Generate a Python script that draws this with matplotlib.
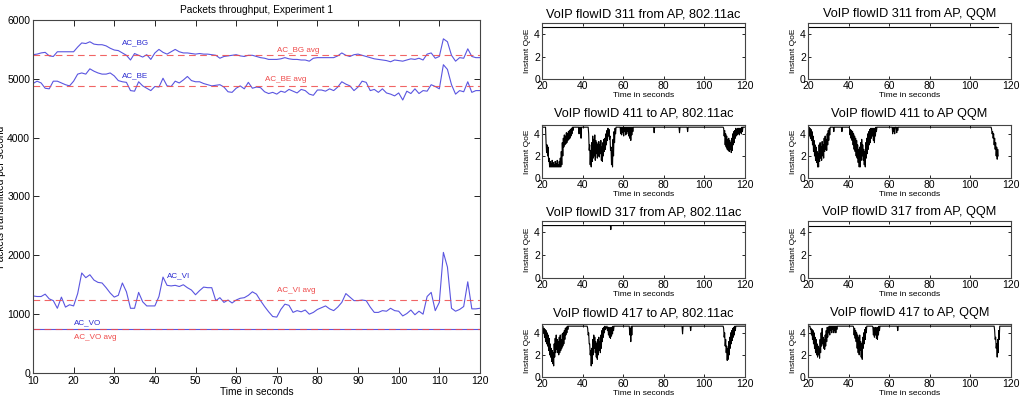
import matplotlib
matplotlib.use("Agg")
import matplotlib.pyplot as plt

plt.rcParams['font.family'] = ['Liberation Sans', 'DejaVu Sans']

# ---------------- Left chart data ----------------
seconds = list(range(10, 121))
ac_bg = [5410, 5420, 5440, 5450, 5390, 5380, 5460, 5460, 5460, 5460,
         5460, 5540, 5610, 5600, 5630, 5590, 5580, 5580, 5560, 5520,
         5490, 5480, 5440, 5400, 5320, 5430, 5400, 5370, 5410, 5330,
         5440, 5500, 5450, 5420, 5460, 5500, 5460, 5440, 5440, 5430,
         5420, 5430, 5420, 5420, 5410, 5400, 5350, 5380, 5390, 5400,
         5410, 5390, 5380, 5400, 5400, 5380, 5360, 5350, 5330, 5330,
         5330, 5340, 5360, 5340, 5330, 5330, 5320, 5320, 5300, 5350,
         5360, 5360, 5360, 5360, 5360, 5390, 5440, 5400, 5380, 5410,
         5420, 5400, 5380, 5360, 5340, 5330, 5320, 5310, 5290, 5320,
         5310, 5300, 5320, 5340, 5330, 5350, 5320, 5420, 5440, 5350,
         5380, 5680, 5630, 5400, 5300, 5360, 5350, 5510, 5380, 5360,
         5360]
ac_be = [4920, 4960, 4930, 4840, 4830, 4960, 4960, 4930, 4900, 4880,
         4960, 5080, 5100, 5080, 5170, 5130, 5100, 5080, 5080, 5100,
         5050, 4970, 4950, 4940, 4800, 4790, 4950, 4880, 4840, 4800,
         4870, 4860, 5010, 4880, 4870, 4960, 4930, 4980, 5040, 4970,
         4950, 4950, 4920, 4900, 4880, 4890, 4900, 4860, 4780, 4770,
         4840, 4880, 4830, 4940, 4840, 4860, 4850, 4780, 4750, 4770,
         4740, 4790, 4770, 4820, 4790, 4760, 4820, 4800, 4740, 4720,
         4810, 4810, 4790, 4830, 4800, 4860, 4950, 4910, 4880, 4800,
         4860, 4960, 4940, 4800, 4820, 4770, 4830, 4760, 4740, 4710,
         4760, 4640, 4790, 4750, 4830, 4750, 4800, 4790, 4900, 4870,
         4830, 5240, 5160, 4900, 4740, 4800, 4780, 4950, 4770, 4800,
         4800]
ac_vi = [1310, 1300, 1300, 1340, 1260, 1230, 1100, 1290, 1120, 1160,
         1140, 1350, 1700, 1620, 1670, 1580, 1540, 1530, 1450, 1360,
         1290, 1320, 1530, 1380, 1100, 1100, 1370, 1210, 1140, 1140,
         1140, 1300, 1630, 1490, 1480, 1490, 1470, 1500, 1450, 1410,
         1330, 1400, 1460, 1450, 1450, 1230, 1280, 1200, 1240, 1190,
         1240, 1270, 1280, 1320, 1380, 1340, 1230, 1130, 1040, 960,
         950, 1080, 1170, 1150, 1030, 1060, 1040, 1070, 1000, 1030,
         1080, 1110, 1140, 1090, 1060, 1120, 1200, 1350, 1290, 1230,
         1230, 1240, 1230, 1120, 1030, 1030, 1060, 1050, 1100, 1060,
         1050, 970, 1010, 1070, 990, 1050, 1000, 1300, 1370, 1060,
         1200, 2050, 1800, 1100, 1050, 1080, 1130, 1550, 1090, 1090,
         1100]
ac_vo_t = [10, 120]
ac_vo = [740, 740]
avg_names = ['AC_BG avg', 'AC_BE avg', 'AC_VI avg', 'AC_VO avg']
avg_values = [5410, 4870, 1240, 745]

# ---------------- Right charts data (QoE) ----------------
titles = ['VoIP flowID 311 from AP, 802.11ac', 'VoIP flowID 311 from AP, QQM',
          'VoIP flowID 411 to AP, 802.11ac', 'VoIP flowID 411 to AP QQM',
          'VoIP flowID 317 from AP, 802.11ac', 'VoIP flowID 317 from AP, QQM',
          'VoIP flowID 417 to AP, 802.11ac', 'VoIP flowID 417 to AP, QQM']

f311_ac_t = [20, 120]
f311_ac_v = [4.6, 4.6]
f311_qqm_t = [20, 113.6]
f311_qqm_v = [4.6, 4.6]
f317_ac_t = [20, 53.7, 53.9, 54.1, 120]
f317_ac_v = [4.6, 4.6, 4.25, 4.6, 4.6]
f317_qqm_t = [20, 120]
f317_qqm_v = [4.6, 4.6]

# turbulent flows: sample time, upper and lower envelope of the trace
f411_ac_t = [20, 21.5, 22, 22.5, 23, 23.5, 24, 24.5, 25, 25.5, 26, 26.5, 27, 27.5, 28, 28.5,
             29, 29.5, 30, 30.5, 31, 31.5, 32, 32.5, 33, 33.5, 34, 34.5, 35, 35.5, 37.5, 38,
             38.5, 39, 39.5, 42.5, 43, 43.5, 44, 44.5, 45, 45.5, 46, 46.5, 47, 47.5, 48, 48.5,
             49, 49.5, 50, 50.5, 51, 51.5, 52, 52.5, 53, 53.5, 54, 54.5, 55, 55.5, 56, 56.5,
             58, 58.5, 59, 59.5, 60, 60.5, 61, 61.5, 62, 62.5, 63, 63.5, 64, 64.5, 65, 74.5,
             75, 75.5, 87, 87.5, 88, 91, 91.5, 92, 109, 109.5, 110, 110.5, 111, 111.5, 112,
             112.5, 113, 113.5, 114, 114.5, 115, 115.5, 116, 116.5, 117, 117.5, 118, 118.5,
             119, 120]
f411_ac_hi = [4.6, 4.6, 3.2, 3.0, 2.8, 1.8, 1.5, 1.3, 1.6, 1.4, 1.2, 1.5, 1.3, 1.6, 1.2, 1.5,
              1.8, 2.4, 3.2, 3.6, 3.9, 3.8, 4.1, 4.0, 4.2, 4.3, 4.4, 4.5, 4.6, 4.6, 4.6, 4.6,
              4.6, 4.6, 4.6, 4.6, 4.0, 3.0, 2.5, 3.2, 3.8, 3.5, 3.9, 3.4, 3.2, 3.0, 3.3, 3.0,
              3.4, 2.8, 3.2, 3.5, 3.6, 4.0, 4.3, 4.5, 4.4, 3.8, 2.8, 2.5, 3.5, 4.2, 4.5, 4.6,
              4.6, 4.6, 4.6, 4.6, 4.6, 4.6, 4.6, 4.6, 4.6, 4.6, 4.6, 4.6, 4.6, 4.6, 4.6, 4.6,
              4.6, 4.6, 4.6, 4.6, 4.6, 4.6, 4.6, 4.6, 4.6, 4.5, 4.3, 4.0, 3.8, 3.5, 3.6,
              3.4, 3.2, 3.6, 4.0, 4.2, 4.3, 4.5, 4.4, 4.5, 4.5, 4.5, 4.5, 4.6,
              4.6, 4.6]
f411_ac_lo = [4.6, 4.6, 2.3, 2.0, 1.5, 1.0, 1.0, 1.0, 1.0, 1.0, 1.0, 1.0, 1.0, 1.0, 1.0, 1.0,
              1.0, 1.2, 2.0, 2.8, 3.0, 3.1, 3.2, 3.4, 3.5, 3.6, 3.8, 4.0, 4.3, 4.6, 4.6, 4.0,
              4.4, 3.6, 4.6, 4.6, 2.5, 1.2, 1.0, 1.5, 1.8, 2.0, 1.6, 2.2, 1.8, 2.0, 1.9, 2.2,
              1.6, 1.5, 2.0, 2.4, 2.6, 3.0, 3.4, 3.8, 3.5, 2.5, 1.2, 1.0, 2.0, 3.2, 4.0, 4.6,
              4.6, 4.0, 3.9, 4.1, 3.8, 4.2, 3.9, 4.0, 4.2, 3.8, 3.6, 3.4, 3.9, 4.2, 4.6, 4.6,
              4.1, 4.6, 4.6, 4.1, 4.6, 4.6, 4.2, 4.6, 4.6, 3.8, 3.0, 2.8, 2.6, 2.5, 2.4,
              2.6, 2.3, 2.5, 3.0, 3.2, 3.6, 3.8, 3.9, 4.0, 3.9, 4.1, 4.0, 4.2,
              4.6, 4.6]

f411_qqm_t = [20, 20.5, 21, 21.5, 22, 22.5, 23, 23.5, 24, 24.5, 25, 25.5, 26, 26.5, 27, 27.5,
              28, 28.5, 29, 29.5, 30, 30.5, 31, 32, 32.5, 33, 36, 36.5, 37, 40, 40.5, 41, 41.5,
              42, 42.5, 43, 43.5, 44, 44.5, 45, 45.5, 46, 46.5, 47, 47.5, 48, 48.5, 49, 49.5,
              50, 50.5, 51, 51.5, 52, 52.5, 53, 53.5, 54, 61, 61.5, 62, 62.5, 63, 63.5, 64, 64.5,
              110, 110.5, 111, 111.5, 112, 112.5, 113, 113.5]
f411_qqm_hi = [4.6, 4.6, 4.5, 4.4, 4.2, 3.8, 3.4, 3.0, 2.8, 2.4, 2.2, 3.0, 3.2, 2.8, 3.3, 3.0,
               3.6, 3.8, 3.5, 4.0, 4.3, 4.5, 4.6, 4.6, 4.6, 4.6, 4.6, 4.6, 4.6, 4.6, 4.5, 4.4, 4.3,
               4.2, 4.0, 3.8, 3.6, 3.4, 3.0, 2.6, 2.8, 3.2, 3.5, 3.0, 2.6, 2.4, 3.2, 3.6, 4.0,
               4.2, 4.4, 4.5, 4.5, 4.5, 4.5, 4.5, 4.6, 4.6, 4.6, 4.6, 4.6, 4.6, 4.6, 4.6, 4.6, 4.6,
               4.6, 4.4, 4.2, 4.0, 3.6, 3.2, 2.8, 2.6]
f411_qqm_lo = [4.3, 3.8, 3.6, 3.4, 3.0, 2.4, 2.0, 1.6, 1.4, 1.0, 1.0, 1.5, 1.8, 1.6, 2.0, 1.8,
               2.4, 2.6, 2.5, 3.0, 3.4, 3.9, 4.6, 4.6, 4.2, 4.6, 4.6, 4.2, 4.6, 4.6, 3.9, 3.6, 3.4,
               3.0, 2.6, 2.4, 2.0, 1.8, 1.4, 1.0, 1.0, 1.6, 2.0, 1.6, 1.2, 1.0, 1.8, 2.2, 2.6,
               3.0, 3.2, 3.6, 3.8, 3.4, 3.2, 3.8, 4.2, 4.6, 4.6, 4.0, 4.2, 4.0, 4.6, 4.1, 4.3, 4.6,
               4.6, 4.0, 3.6, 3.0, 2.6, 2.0, 1.7, 2.0]

f417_ac_t = [20, 20.5, 21, 21.5, 22, 22.5, 23, 23.5, 24, 24.5, 25, 25.5, 26, 26.5, 27, 27.5,
             28, 28.5, 29, 29.5, 30, 30.5, 31, 31.5, 32, 32.5, 33, 42, 42.5, 43, 43.5, 44,
             44.5, 45, 45.5, 46, 46.5, 47, 47.5, 48, 48.5, 49, 49.5, 50, 50.5, 51, 52, 52.5,
             53, 53.5, 54, 54.5, 55, 55.5, 62.5, 63, 63.5, 64, 64.5, 88.5, 89, 89.5, 92.5, 93,
             93.5, 109, 109.5, 110, 110.5, 111, 111.5, 112, 112.5, 113, 113.5, 114, 114.5, 115,
             115.5, 120]
f417_ac_hi = [4.6, 4.6, 4.4, 4.3, 4.2, 4.0, 3.8, 3.5, 3.0, 2.6, 2.4, 2.2, 3.0, 3.5, 3.8, 3.4,
              3.2, 3.6, 3.8, 3.4, 3.9, 4.0, 4.2, 4.4, 4.5, 4.6, 4.6, 4.6, 4.4, 4.0, 3.0, 2.4,
              2.6, 3.4, 3.8, 3.6, 3.2, 3.0, 3.4, 3.6, 3.2, 3.8, 4.2, 4.4, 4.5, 4.6, 4.6, 4.5,
              4.5, 4.4, 4.5, 4.5, 4.6, 4.6, 4.6, 4.6, 4.4, 4.6, 4.6, 4.6, 4.6, 4.6, 4.6, 4.6,
              4.6, 4.6, 4.4, 4.0, 3.4, 2.8, 2.6, 3.2, 3.6, 4.0, 4.2, 4.4, 4.5, 4.6,
              4.6, 4.6]
f417_ac_lo = [4.6, 4.0, 3.6, 3.2, 3.0, 2.8, 2.4, 2.0, 1.8, 1.4, 1.2, 1.0, 1.8, 2.2, 2.5, 2.2,
              2.0, 2.2, 2.4, 2.6, 2.8, 3.0, 3.4, 3.8, 4.0, 4.3, 4.6, 4.6, 3.8, 3.0, 2.0, 1.0,
              1.2, 2.0, 2.6, 2.2, 1.8, 1.6, 2.0, 2.4, 2.2, 2.6, 3.2, 3.6, 4.0, 4.3, 4.2, 3.8,
              3.6, 3.5, 3.7, 3.9, 4.2, 4.6, 4.6, 3.8, 3.2, 3.8, 4.6, 4.6, 3.9, 4.6, 4.6, 4.2,
              4.6, 4.6, 3.6, 2.8, 2.2, 1.5, 1.6, 2.0, 2.6, 3.0, 3.3, 3.6, 3.8, 4.2,
              4.6, 4.6]

f417_qqm_t = [20, 21, 21.5, 22, 22.5, 23, 23.5, 24, 24.5, 25, 25.5, 26, 26.5, 27, 27.5, 28,
              28.5, 29, 29.5, 30, 30.5, 31, 31.5, 32, 32.5, 33, 33.5, 34, 34.5, 42, 42.5, 43,
              43.5, 44, 44.5, 45, 45.5, 46, 46.5, 47, 47.5, 48, 48.5, 49, 51.5, 52, 52.5, 53,
              53.5, 54, 54.5, 55, 55.5, 63.5, 64, 64.5, 111.5, 112, 112.5, 113, 113.5, 114,
              114.5, 120]
f417_qqm_hi = [4.6, 4.6, 4.4, 4.3, 4.2, 4.0, 3.6, 3.4, 3.0, 2.8, 2.6, 3.4, 4.0, 4.4, 3.6, 3.4,
               3.8, 4.2, 4.5, 4.5, 4.6, 4.6, 4.6, 4.6, 4.6, 4.6, 4.6, 4.6, 4.6, 4.6, 4.5, 4.4,
               4.2, 4.0, 3.8, 3.6, 3.8, 3.2, 3.0, 3.6, 4.0, 4.3, 4.5, 4.6, 4.6, 4.5, 4.5, 4.4,
               4.5, 4.4, 4.5, 4.6, 4.6, 4.6, 4.6, 4.6, 4.6, 4.2, 3.6, 3.0, 3.4, 4.2,
               4.6, 4.6]
f417_qqm_lo = [4.6, 4.3, 3.8, 3.4, 3.0, 2.6, 2.2, 2.0, 1.8, 2.0, 1.7, 2.2, 2.8, 3.0, 2.6, 2.5,
               2.8, 3.2, 3.6, 4.0, 3.8, 4.2, 4.0, 4.3, 4.0, 4.2, 4.0, 4.3, 4.6, 4.6, 3.8, 3.5,
               3.2, 2.6, 2.2, 2.0, 2.4, 1.8, 1.6, 2.6, 3.0, 3.4, 4.0, 4.6, 4.6, 3.8, 3.6, 3.8,
               3.5, 3.4, 3.8, 4.2, 4.6, 4.6, 4.2, 4.6, 4.6, 3.4, 2.6, 1.8, 2.2, 3.4,
               4.6, 4.6]


def zigzag(t, hi, lo):
    xs, ys = [], []
    for a, h, l in zip(t, hi, lo):
        xs += [a, a + 0.25]
        ys += [h, l]
    return xs, ys


BLUE = '#5a55e0'
BLUE_TXT = '#2a2ad0'
RED = '#ef4a4a'
SPINE = '#444444'

fig = plt.figure(figsize=(10.24, 4.08), dpi=100)

# ---------------- Left chart ----------------
ax = fig.add_axes([0.0322, 0.0858, 0.4365, 0.8652])
for s in (ac_bg, ac_be, ac_vi):
    ax.plot(seconds, s, color=BLUE, lw=0.8)
ax.plot(ac_vo_t, ac_vo, color=BLUE, lw=0.8)
for v in avg_values:
    ax.plot([10, 120], [v, v], color=RED, lw=0.8, ls=(0, (6, 4)), alpha=0.85)
ax.set_xlim(10, 120)
ax.set_ylim(0, 6000)
ax.set_xticks(range(10, 121, 10))
ax.set_yticks(range(0, 6001, 1000))
ax.tick_params(direction='in', length=4, width=0.6, top=True, right=True,
               labelsize=7.5, pad=2, colors='black')
for sp in ax.spines.values():
    sp.set_color(SPINE)
    sp.set_linewidth(0.8)
ax.set_title('Packets throughput, Experiment 1', fontsize=7.3, pad=5)
ax.set_xlabel('Time in seconds', fontsize=7.3, labelpad=1)
ax.set_ylabel('Packets transmitted per second', fontsize=7.3)
ax.yaxis.set_label_coords(-0.061, 0.5)

fs_lab = 5.8
ax.text(32, 5610, 'AC_BG', color=BLUE_TXT, fontsize=fs_lab, va='center')
ax.text(70, 5486, avg_names[0], color=RED, fontsize=fs_lab, va='center')
ax.text(32, 5046, 'AC_BE', color=BLUE_TXT, fontsize=fs_lab, va='center')
ax.text(67, 4990, avg_names[1], color=RED, fontsize=fs_lab, va='center')
ax.text(43, 1655, 'AC_VI', color=BLUE_TXT, fontsize=fs_lab, va='center')
ax.text(70, 1400, avg_names[2], color=RED, fontsize=fs_lab, va='center')
ax.text(20, 846, 'AC_VO', color=BLUE_TXT, fontsize=fs_lab, va='center')
ax.text(20, 600, avg_names[3], color=RED, fontsize=fs_lab, va='center')

# ---------------- Right charts ----------------
col_left = [0.5293, 0.789]
col_w = 0.1982
rows = [(0.8064, 0.1373, 5.0, 4.0), (0.5637, 0.130, 4.8, 6.0),
        (0.3186, 0.1397, 5.0, 4.0), (0.076, 0.130, 4.8, 5.5)]

series = [
    (f311_ac_t, f311_ac_v), (f311_qqm_t, f311_qqm_v),
    zigzag(f411_ac_t, f411_ac_hi, f411_ac_lo), zigzag(f411_qqm_t, f411_qqm_hi, f411_qqm_lo),
    (f317_ac_t, f317_ac_v), (f317_qqm_t, f317_qqm_v),
    zigzag(f417_ac_t, f417_ac_hi, f417_ac_lo), zigzag(f417_qqm_t, f417_qqm_hi, f417_qqm_lo),
]

for i in range(8):
    r, c = divmod(i, 2)
    bottom, h, ytop, tpad = rows[r]
    a = fig.add_axes([col_left[c], bottom, col_w, h])
    xs, ys = series[i]
    a.plot(xs, ys, color='black', lw=0.8)
    a.set_xlim(20, 120)
    a.set_ylim(0, ytop)
    a.set_xticks(range(20, 121, 20))
    a.set_yticks([0, 2, 4])
    a.tick_params(direction='in', length=2, width=0.6, top=True, right=True,
                  labelsize=7.5, pad=1.5)
    for sp in a.spines.values():
        sp.set_color(SPINE)
        sp.set_linewidth(0.8)
    a.set_title(titles[i], fontsize=9.2, pad=tpad)
    a.set_xlabel('Time in seconds', fontsize=6, labelpad=0.5)
    a.set_ylabel('Instant QoE', fontsize=6, labelpad=2)

fig.savefig('out.png', dpi=100)
